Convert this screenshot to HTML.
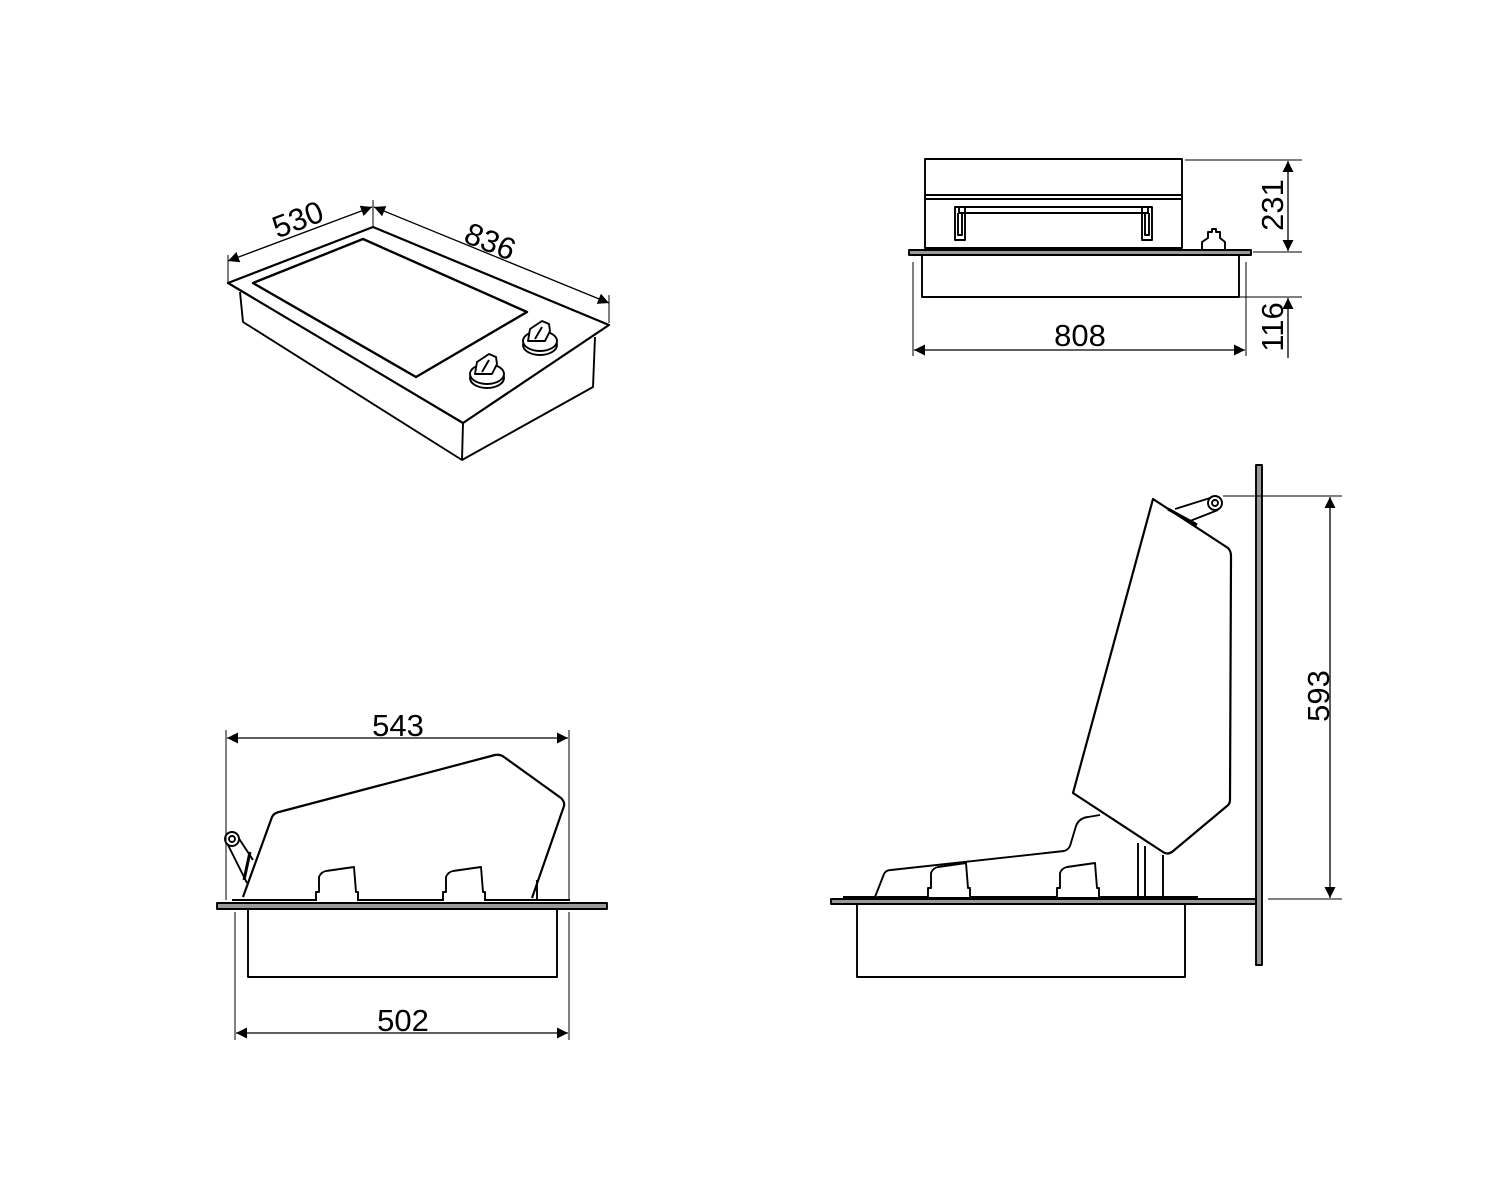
<!DOCTYPE html>
<html><head><meta charset="utf-8"><style>
html,body{margin:0;padding:0;background:#fff;}
svg{display:block;}
text{font-family:"Liberation Sans",Arial,sans-serif;font-size:31px;fill:#000;}
</style></head><body>
<svg width="1500" height="1199" viewBox="0 0 1500 1199" xmlns="http://www.w3.org/2000/svg">
<defs>
<marker id="a" viewBox="0 0 10 10" refX="10" refY="5" markerWidth="16" markerHeight="11" markerUnits="userSpaceOnUse" orient="auto-start-reverse"><path d="M0,0 L10,5 L0,10 z" fill="#000"/></marker>
</defs>
<g fill="none" stroke="#000" stroke-width="1.9" stroke-linejoin="round">
<!-- ISO VIEW -->
<polygon points="228,283 373,227 609,325 463,423" fill="#fff" stroke-width="2.2"/>
<polyline points="240,292 243,322 462,460 463,423"/>
<polyline points="462,460 593,387 595,337"/>
<polygon points="253,283 363,239 527,312 416,377" stroke-width="2.4"/>
<g transform="translate(487,372)">
<ellipse cx="0" cy="6" rx="17" ry="10" fill="#fff"/><ellipse cx="0" cy="2" rx="17" ry="10" fill="#fff"/>
<path d="M-12,2 L-10,-10 L2,-18 L9,-15 L10,-8 L5,2 Z M-5,0 L2,-12" fill="#fff"/>
</g>
<g transform="translate(540,339)">
<ellipse cx="0" cy="6" rx="17" ry="10" fill="#fff"/><ellipse cx="0" cy="2" rx="17" ry="10" fill="#fff"/>
<path d="M-12,2 L-10,-10 L2,-18 L9,-15 L10,-8 L5,2 Z M-5,0 L2,-12" fill="#fff"/>
</g>
<g stroke-width="1"><line x1="228" y1="255" x2="228" y2="284"/><line x1="373" y1="200" x2="373" y2="226"/><line x1="609" y1="295" x2="609" y2="323"/></g>
<line x1="228" y1="261" x2="372" y2="207" marker-start="url(#a)" marker-end="url(#a)" stroke-width="1.3"/>
<line x1="374" y1="207" x2="609" y2="303" marker-start="url(#a)" marker-end="url(#a)" stroke-width="1.3"/>

<!-- FRONT VIEW top right -->
<rect x="925" y="159" width="257" height="89" fill="#fff"/>
<line x1="925" y1="195" x2="1182" y2="195"/><line x1="925" y1="199" x2="1182" y2="199"/>
<rect x="959" y="207" width="189" height="6"/>
<path d="M955,207 h10 v33 h-10 z M958,213 v22 h4 v-22"/>
<path d="M1142,207 h10 v33 h-10 z M1145,213 v22 h4 v-22"/>
<path d="M1202,250 v-8 l6,-4 v-6 h4 v-3 h4 v3 h4 v6 l5,4 v8" fill="#fff"/>
<rect x="909" y="250" width="342" height="5" fill="#999"/>
<rect x="922" y="255" width="317" height="42"/>
<g stroke-width="1"><line x1="1185" y1="160" x2="1302" y2="160"/><line x1="1253" y1="252" x2="1302" y2="252"/><line x1="1240" y1="297" x2="1302" y2="297"/>
<line x1="913" y1="262" x2="913" y2="356"/><line x1="1246" y1="262" x2="1246" y2="356"/></g>
<line x1="1288" y1="161" x2="1288" y2="251" marker-start="url(#a)" marker-end="url(#a)" stroke-width="1.3"/>
<line x1="1288" y1="298" x2="1288" y2="358" marker-start="url(#a)" stroke-width="1.3"/>
<line x1="914" y1="350" x2="1245" y2="350" marker-start="url(#a)" marker-end="url(#a)" stroke-width="1.3"/>

<!-- SIDE VIEW bottom left -->
<polyline points="232,900 570,900"/>
<path d="M243,897 L272,817 Q274,813 279,812 L495,755 Q500,754 504,757 L561,798 Q565,802 564,806 L532,898" fill="#fff" stroke-width="2.2"/>
<line x1="537" y1="880" x2="537" y2="900"/>
<path d="M316,901 v-9 h3 v-15 q2,-5 7,-6 l28,-4 l2,25 h2 v9" fill="#fff"/>
<path d="M443,901 v-9 h3 v-15 q2,-5 7,-6 l28,-4 l2,25 h2 v9" fill="#fff"/>
<path d="M228,845 L247,883 M236,834 L253,860"/>
<line x1="250" y1="852" x2="244" y2="880" stroke-width="3"/>
<circle cx="232" cy="839" r="7" fill="#fff"/><circle cx="232" cy="839" r="3"/>
<rect x="217" y="903" width="390" height="6" fill="#999"/>
<rect x="248" y="909" width="309" height="68"/>
<g stroke-width="1"><line x1="226" y1="730" x2="226" y2="900"/><line x1="569" y1="730" x2="569" y2="900"/>
<line x1="235" y1="912" x2="235" y2="1040"/><line x1="569" y1="912" x2="569" y2="1040"/></g>
<line x1="227" y1="738" x2="568" y2="738" marker-start="url(#a)" marker-end="url(#a)" stroke-width="1.3"/>
<line x1="236" y1="1033" x2="568" y2="1033" marker-start="url(#a)" marker-end="url(#a)" stroke-width="1.3"/>

<!-- OPEN SIDE VIEW bottom right -->
<rect x="1256" y="465" width="6" height="500" fill="#999"/>
<rect x="831" y="899" width="425" height="5" fill="#999"/>
<line x1="843" y1="897" x2="1198" y2="897"/>
<rect x="857" y="904" width="328" height="73"/>
<path d="M875,897 L884,874 Q886,870 891,870 L1064,851 Q1068,850 1070,846 L1076,826 Q1079,818 1088,817 L1100,815" fill="#fff"/>
<path d="M1138,897 V843 M1145,897 V846 M1163,897 V855"/>
<path d="M928,897 v-9 h3 v-15 q2,-5 7,-6 l28,-4 l2,25 h2 v9" fill="#fff"/>
<path d="M1057,897 v-9 h3 v-15 q2,-5 7,-6 l28,-4 l2,25 h2 v9" fill="#fff"/>
<path d="M1153,499 L1228,548 Q1231,551 1231,556 L1230,800 Q1230,804 1227,806 L1172,852 Q1167,855 1163,852 L1073,793 Z" fill="#fff" stroke-width="2.2"/>
<path d="M1175,509 L1210,498 M1190,521 L1218,510"/>
<line x1="1168" y1="509" x2="1197" y2="525" stroke-width="3"/>
<circle cx="1215" cy="503" r="7" fill="#fff"/><circle cx="1215" cy="503" r="3"/>
<g stroke-width="1"><line x1="1223" y1="496" x2="1342" y2="496"/><line x1="1268" y1="899" x2="1342" y2="899"/></g>
<line x1="1330" y1="497" x2="1330" y2="898" marker-start="url(#a)" marker-end="url(#a)" stroke-width="1.3"/>
</g>
<text x="298" y="230" text-anchor="middle" transform="rotate(-21 298 220)">530</text>
<text x="490" y="252" text-anchor="middle" transform="rotate(22 490 242)">836</text>
<text x="1080" y="346" text-anchor="middle">808</text>
<text x="1272" y="216" text-anchor="middle" transform="rotate(-90 1272 205)">231</text>
<text x="1272" y="338" text-anchor="middle" transform="rotate(-90 1272 327)">116</text>
<text x="398" y="736" text-anchor="middle">543</text>
<text x="403" y="1031" text-anchor="middle">502</text>
<text x="1318" y="707" text-anchor="middle" transform="rotate(-90 1318 696)">593</text>
</svg>
</body></html>
